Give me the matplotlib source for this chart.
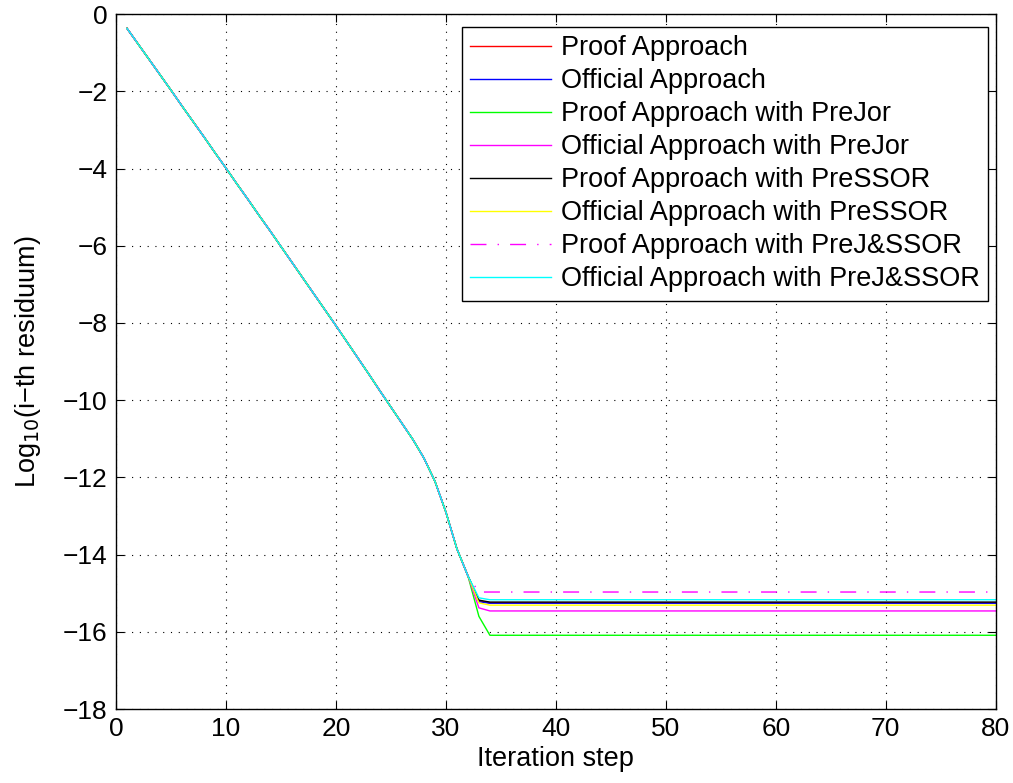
import matplotlib
matplotlib.use("Agg")
import matplotlib.pyplot as plt
import numpy as np

# shared convergence history, iterations 1..32
head = [-0.37, -0.77, -1.17, -1.57, -1.97, -2.38, -2.78, -3.18, -3.59, -3.99,
        -4.40, -4.80, -5.21, -5.61, -6.02, -6.43, -6.84, -7.25, -7.66, -8.07,
        -8.49, -8.91, -9.33, -9.76, -10.18, -10.60, -11.02, -11.50, -12.10, -12.90,
        -13.85, -14.55]

labels = ["Proof Approach", "Official Approach", "Proof Approach with PreJor",
          "Official Approach with PreJor", "Proof Approach with PreSSOR",
          "Official Approach with PreSSOR", "Proof Approach with PreJ&SSOR",
          "Official Approach with PreJ&SSOR"]
colors = ["#ff0000", "#0000ff", "#00ff00", "#ff00ff", "#000000", "#ffff00", "#ff00ff", "#00ffff"]
styles = ["-", "-", "-", "-", "-", "-", "-.", "-"]
# value at iteration 33, then stagnation level (iterations 34..80)
val33 = [-15.20, -15.22, -15.60, -15.38, -15.18, -15.25, -14.97, -15.12]
plateau = [-15.25, -15.26, -16.09, -15.46, -15.23, -15.31, -14.97, -15.17]

iters = np.arange(1, 81)

plt.rcParams['font.family'] = ['Liberation Sans', 'DejaVu Sans']
fig = plt.figure(figsize=(10.13, 7.83), dpi=100)
ax = fig.add_axes([0.1145, 0.0945, 0.8685, 0.8875])

for lab, c, ls, v33, p in zip(labels, colors, styles, val33, plateau):
    y = head + [v33] + [p] * (len(iters) - len(head) - 1)
    if ls == "-.":
        ax.plot(iters, y, color=c, linewidth=1.0, label=lab, dashes=(11.5, 8, 1, 8))
    else:
        ax.plot(iters, y, color=c, linestyle=ls, linewidth=1.0, label=lab)

ax.set_xlim(0, 80)
ax.set_ylim(-18, 0)
ax.set_xticks(np.arange(0, 81, 10))
ax.set_yticks(np.arange(-18, 1, 2))
ax.set_yticklabels([f"\u2212{abs(v)}" if v < 0 else "0" for v in range(-18, 1, 2)])
ax.tick_params(direction="in", top=True, right=True, labelsize=19, length=6, pad=6)
ax.grid(True, color="black", linestyle=(0, (1, 6)), linewidth=0.8)
for s in ax.spines.values():
    s.set_linewidth(1.0)
ax.set_xlabel("Iteration step", fontsize=19.5, labelpad=3)
ax.set_ylabel("Log$_{10}$(i\u2212th residuum)", fontsize=19.5, labelpad=14)

leg = ax.legend(loc="upper right", bbox_to_anchor=(988 / 1013, 1 - 27 / 783),
                bbox_transform=fig.transFigure, borderaxespad=0,
                fontsize=19.5, handlelength=3.0, labelspacing=0.26,
                fancybox=False, edgecolor="black", framealpha=1,
                handletextpad=0.37, borderpad=0.3)
leg.get_frame().set_linewidth(1.0)

fig.savefig("out.png", dpi=100)
